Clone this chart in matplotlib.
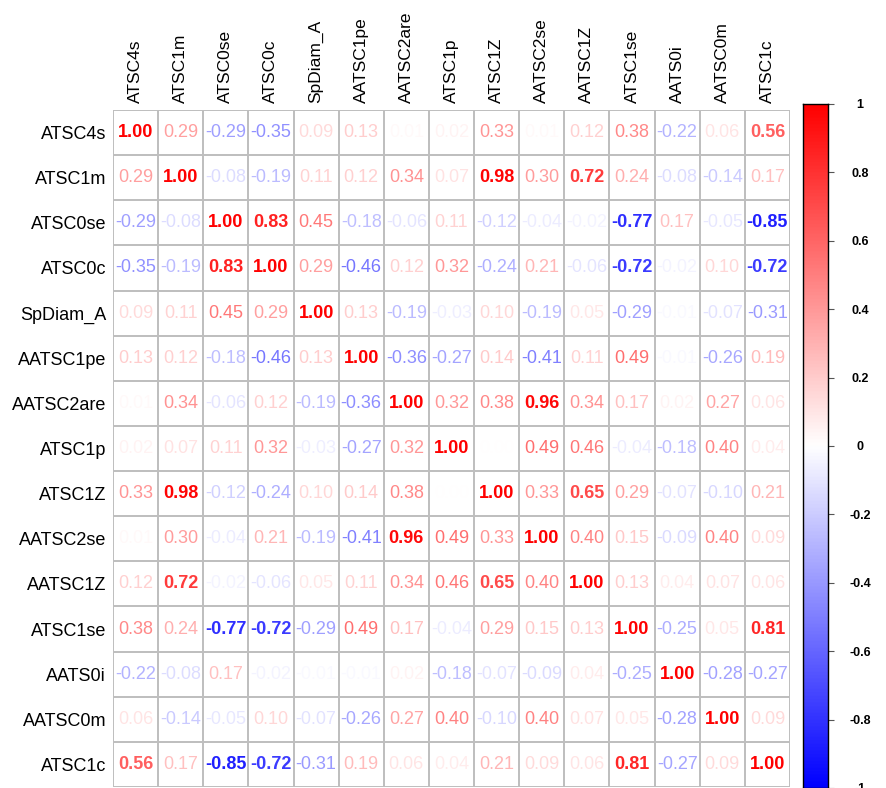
import matplotlib
matplotlib.use("Agg")
import matplotlib.pyplot as plt
import matplotlib.colors as mcolors
import numpy as np

# Variable names (rows and columns)
labels = ["ATSC4s", "ATSC1m", "ATSC0se", "ATSC0c", "SpDiam_A", "AATSC1pe",
          "AATSC2are", "ATSC1p", "ATSC1Z", "AATSC2se", "AATSC1Z", "ATSC1se",
          "AATS0i", "AATSC0m", "ATSC1c"]

# Correlation matrix
r_ATSC4s    = [1.00, 0.29, -0.29, -0.35, 0.09, 0.13, 0.01, 0.02, 0.33, 0.01, 0.12, 0.38, -0.22, 0.06, 0.56]
r_ATSC1m    = [0.29, 1.00, -0.08, -0.19, 0.11, 0.12, 0.34, 0.07, 0.98, 0.30, 0.72, 0.24, -0.08, -0.14, 0.17]
r_ATSC0se   = [-0.29, -0.08, 1.00, 0.83, 0.45, -0.18, -0.06, 0.11, -0.12, -0.04, -0.02, -0.77, 0.17, -0.05, -0.85]
r_ATSC0c    = [-0.35, -0.19, 0.83, 1.00, 0.29, -0.46, 0.12, 0.32, -0.24, 0.21, -0.06, -0.72, -0.02, 0.10, -0.72]
r_SpDiam_A  = [0.09, 0.11, 0.45, 0.29, 1.00, 0.13, -0.19, -0.03, 0.10, -0.19, 0.05, -0.29, -0.01, -0.07, -0.31]
r_AATSC1pe  = [0.13, 0.12, -0.18, -0.46, 0.13, 1.00, -0.36, -0.27, 0.14, -0.41, 0.11, 0.49, -0.01, -0.26, 0.19]
r_AATSC2are = [0.01, 0.34, -0.06, 0.12, -0.19, -0.36, 1.00, 0.32, 0.38, 0.96, 0.34, 0.17, 0.02, 0.27, 0.06]
r_ATSC1p    = [0.02, 0.07, 0.11, 0.32, -0.03, -0.27, 0.32, 1.00, 0.00, 0.49, 0.46, -0.04, -0.18, 0.40, 0.04]
r_ATSC1Z    = [0.33, 0.98, -0.12, -0.24, 0.10, 0.14, 0.38, 0.00, 1.00, 0.33, 0.65, 0.29, -0.07, -0.10, 0.21]
r_AATSC2se  = [0.01, 0.30, -0.04, 0.21, -0.19, -0.41, 0.96, 0.49, 0.33, 1.00, 0.40, 0.15, -0.09, 0.40, 0.09]
r_AATSC1Z   = [0.12, 0.72, -0.02, -0.06, 0.05, 0.11, 0.34, 0.46, 0.65, 0.40, 1.00, 0.13, 0.04, 0.07, 0.06]
r_ATSC1se   = [0.38, 0.24, -0.77, -0.72, -0.29, 0.49, 0.17, -0.04, 0.29, 0.15, 0.13, 1.00, -0.25, 0.05, 0.81]
r_AATS0i    = [-0.22, -0.08, 0.17, -0.02, -0.01, -0.01, 0.02, -0.18, -0.07, -0.09, 0.04, -0.25, 1.00, -0.28, -0.27]
r_AATSC0m   = [0.06, -0.14, -0.05, 0.10, -0.07, -0.26, 0.27, 0.40, -0.10, 0.40, 0.07, 0.05, -0.28, 1.00, 0.09]
r_ATSC1c    = [0.56, 0.17, -0.85, -0.72, -0.31, 0.19, 0.06, 0.04, 0.21, 0.09, 0.06, 0.81, -0.27, 0.09, 1.00]

corr = np.array([r_ATSC4s, r_ATSC1m, r_ATSC0se, r_ATSC0c, r_SpDiam_A, r_AATSC1pe,
                 r_AATSC2are, r_ATSC1p, r_ATSC1Z, r_AATSC2se, r_AATSC1Z, r_ATSC1se,
                 r_AATS0i, r_AATSC0m, r_ATSC1c])

cbar_ticks = [-1, -0.8, -0.6, -0.4, -0.2, 0, 0.2, 0.4, 0.6, 0.8, 1]
cbar_labels = ["-1", "-0.8", "-0.6", "-0.4", "-0.2", "0", "0.2", "0.4", "0.6", "0.8", "1"]

plt.rcParams['font.family'] = ['Liberation Sans', 'DejaVu Sans']

cmap = mcolors.LinearSegmentedColormap.from_list('bwr_corr', ["blue", "white", "red"], N=200)
norm = mcolors.Normalize(vmin=-1, vmax=1)

n = len(labels)
fig = plt.figure(figsize=(8.86, 7.88), dpi=100)
ax = fig.add_axes([113/886, 1/788, 677/886, 677/788])

# Grid
for k in range(n + 1):
    ax.axhline(k, color="#BEBEBE", lw=1.4, zorder=1)
    ax.axvline(k, color="#BEBEBE", lw=1.4, zorder=1)

# Numbers (text slightly darkened so light values stay readable, like the original)
for i in range(n):
    for j in range(n):
        v = corr[i, j]
        shade = np.sign(v) * abs(v) ** 0.8
        ax.text(j + 0.5, i + 0.5, f"{v:.2f}", ha="center", va="center",
                fontsize=13, color=cmap(norm(shade)),
                fontweight="bold" if abs(v) > 0.5 else "normal", zorder=2)

ax.set_xlim(0, n)
ax.set_ylim(n, 0)
ax.set_xticks(np.arange(n) + 0.5)
ax.set_yticks(np.arange(n) + 0.5)
ax.set_xticklabels(labels, rotation=90, fontsize=12.5)
ax.set_yticklabels(labels, fontsize=13)
ax.xaxis.tick_top()
ax.tick_params(length=0, pad=5)
for s in ax.spines.values():
    s.set_visible(False)

# Colour bar
cax = fig.add_axes([803/886, 0/788, 25/886, 684/788])
grad = np.linspace(-1, 1, 400).reshape(-1, 1)
cax.imshow(grad, aspect="auto", cmap=cmap, norm=norm, origin="lower",
           extent=[0, 1, -1, 1])
cax.set_xticks([])
cax.yaxis.tick_right()
cax.set_yticks(cbar_ticks)
cax.set_yticklabels(cbar_labels, fontsize=9, fontweight="bold", ha="center")
cax.tick_params(axis="y", length=4, width=0.8, pad=19, color="#555555")
for s in cax.spines.values():
    s.set_linewidth(1.0)

fig.savefig("out.png", dpi=100)
